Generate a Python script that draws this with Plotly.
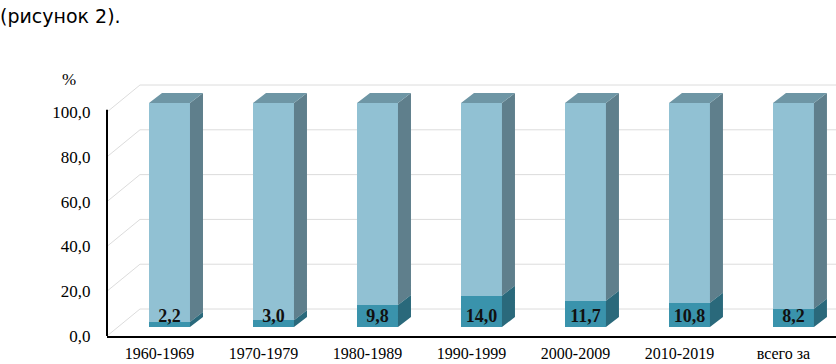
import plotly.graph_objects as go

# ---- data ----
categories = ["1960-1969", "1970-1979", "1980-1989", "1990-1999", "2000-2009", "2010-2019", "всего за"]
share_values = [2.2, 3.0, 9.8, 14.0, 11.7, 10.8, 8.2]
total_values = [100.0] * 7
value_labels = ["2,2", "3,0", "9,8", "14,0", "11,7", "10,8", "8,2"]
y_ticks = [0, 20, 40, 60, 80, 100]
y_tick_labels = ["0,0", "20,0", "40,0", "60,0", "80,0", "100,0"]

# ---- pseudo-3D geometry (in axis units) ----
X_RANGE = [-0.505, 6.505]
Y_RANGE = [0, 118.75]
BAR_OFFSET = -0.101      # bar left edge relative to category position
BAR_WIDTH = 0.394
BASE = 4.0               # front face lift (depth)
SIDE_DX = 0.125
SIDE_DY = 4.46
WALL_DX = 0.317
WALL_DY = 12.05

FRONT_UP = "#91C1D3"
SIDE_UP = "#5F7F8C"
TOP_UP = "#6E96A5"
FRONT_LO = "#3A93AC"
SIDE_LO = "#2A697B"
GRID = "#DCDCDC"
SERIF = "Liberation Serif, Times New Roman, serif"

xs = list(range(len(categories)))

fig = go.Figure()

# front faces
upper = [tv - v for tv, v in zip(total_values, share_values)]
fig.add_trace(go.Bar(x=xs, y=share_values, base=[BASE] * len(xs), offset=BAR_OFFSET,
                     width=BAR_WIDTH, marker=dict(color=FRONT_LO, line=dict(width=0)),
                     showlegend=False))
fig.add_trace(go.Bar(x=xs, y=upper, base=[BASE + v for v in share_values], offset=BAR_OFFSET,
                     width=BAR_WIDTH, marker=dict(color=FRONT_UP, line=dict(width=0)),
                     showlegend=False))

# side faces and top faces
def poly_side(xr, b, t):
    return [xr, xr + SIDE_DX, xr + SIDE_DX, xr, xr, None], [b, b + SIDE_DY, t + SIDE_DY, t, b, None]

lx, ly, ux, uy, tx, ty = [], [], [], [], [], []
for i, v, tv in zip(xs, share_values, total_values):
    xl = i + BAR_OFFSET
    xr = xl + BAR_WIDTH
    a, b = poly_side(xr, BASE, BASE + v)
    lx += a; ly += b
    a, b = poly_side(xr, BASE + v, BASE + tv)
    ux += a; uy += b
    top = BASE + tv
    tx += [xl, xl + SIDE_DX, xr + SIDE_DX, xr, xl, None]
    ty += [top, top + SIDE_DY, top + SIDE_DY, top, top, None]

for px, py, col in [(ux, uy, SIDE_UP), (lx, ly, SIDE_LO), (tx, ty, TOP_UP)]:
    fig.add_trace(go.Scatter(x=px, y=py, mode="lines", fill="toself", fillcolor=col,
                             line=dict(width=0, color=col), hoverinfo="skip", showlegend=False))

# value labels
fig.add_trace(go.Scatter(x=[i + BAR_OFFSET + BAR_WIDTH / 2 for i in xs], y=[BASE + 4.46] * len(xs),
                         mode="text", text=value_labels, textposition="middle center",
                         textfont=dict(family=SERIF, size=18, color="#111111", weight="bold"),
                         hoverinfo="skip", showlegend=False, cliponaxis=False))

# back wall grid (as axis decoration, below traces)
shapes = []
for t in y_ticks:
    shapes.append(dict(type="line", xref="x", yref="y", x0=X_RANGE[0], y0=t,
                       x1=X_RANGE[0] + WALL_DX, y1=t + WALL_DY,
                       line=dict(color=GRID, width=1), layer="below"))
    shapes.append(dict(type="line", xref="x", yref="y", x0=X_RANGE[0] + WALL_DX, y0=t + WALL_DY,
                       x1=X_RANGE[1], y1=t + WALL_DY,
                       line=dict(color=GRID, width=1), layer="below"))
shapes.append(dict(type="line", xref="paper", yref="y", x0=0, x1=0, y0=0, y1=101,
                   line=dict(color="black", width=2), layer="above"))

fig.update_layout(
    width=836, height=364,
    margin=dict(l=107, r=0, t=70, b=28),
    paper_bgcolor="white", plot_bgcolor="white",
    barmode="overlay",
    bargap=0,
    title=dict(text="(рисунок 2).", xref="container", yref="container", x=0, y=1 - 16 / 364,
               xanchor="left", yanchor="middle", pad=dict(l=0, r=0, t=0, b=0),
               font=dict(family="DejaVu Sans, Verdana, sans-serif", size=19, color="black")),
    xaxis=dict(range=X_RANGE, tickmode="array", tickvals=xs, ticktext=categories,
               showgrid=False, zeroline=False, showline=True, linecolor="black", linewidth=2,
               ticks="outside", ticklen=2, tickcolor="rgba(0,0,0,0)",
               tickfont=dict(family=SERIF, size=16, color="black"), automargin=False,
               fixedrange=True),
    yaxis=dict(range=Y_RANGE, tickmode="array", tickvals=y_ticks, ticktext=y_tick_labels,
               showgrid=False, zeroline=False, showline=False,
               ticks="outside", ticklen=12, tickcolor="rgba(0,0,0,0)",
               tickfont=dict(family=SERIF, size=17, color="black"), automargin=False,
               fixedrange=True),
    annotations=[dict(text="%", xref="paper", yref="y", x=(69 - 107) / 729, y=114.3,
                      showarrow=False, font=dict(family=SERIF, size=17, color="black"),
                      xanchor="center", yanchor="middle")],
    shapes=shapes,
)

fig.write_html("out.html", config={"displayModeBar": False},
               post_script="document.body.style.margin='0px';document.body.style.overflow='hidden';")
